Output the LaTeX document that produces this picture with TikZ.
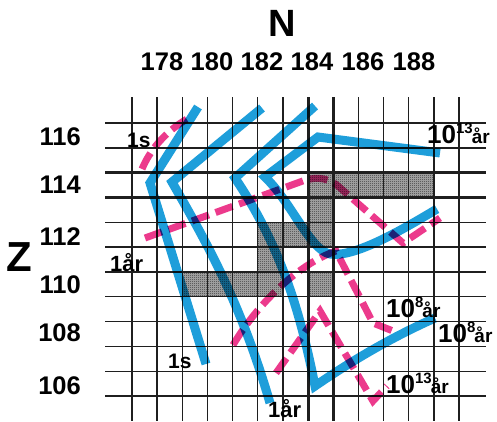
\documentclass[tikz,border=0pt]{standalone}
\usepackage{fontspec}
\setmainfont{Liberation Sans}
\usetikzlibrary{patterns}
\definecolor{cblue}{RGB}{30,158,218}
\definecolor{cpink}{RGB}{236,58,140}
\pgfdeclarepatternformonly{fchecker}{\pgfpointorigin}{\pgfpoint{2pt}{2pt}}{\pgfpoint{2pt}{2pt}}{%
  \pgfpathrectangle{\pgfpointorigin}{\pgfpoint{1pt}{1pt}}%
  \pgfpathrectangle{\pgfpoint{1pt}{1pt}}{\pgfpoint{1pt}{1pt}}%
  \pgfusepath{fill}}
\newcommand\tenpow[2]{{\fontsize{26}{26}\selectfont 10}\raisebox{10pt}{\fontsize{15}{15}\selectfont #1}\kern#2{\fontsize{19}{19}\selectfont år}}
\tikzset{
  gridthin/.style={line width=1.4pt, black!88},
  gridthick/.style={line width=2.9pt, black!88},
  cell/.style={fill=black!32},
  celltex/.style={pattern=fchecker, pattern color=black!80},
  bluepath/.style={cblue, line width=9pt, line join=miter},
  pinkpath/.style={cpink, line width=7pt, line join=miter, dash pattern=on 18pt off 7pt},
  axislabel/.style={font=\bfseries\fontsize{25.5}{25.5}\selectfont, inner sep=0pt},
  biglabel/.style={inner sep=0pt},
  curvelabel/.style={font=\bfseries, inner sep=0pt, anchor=base west},
}
\begin{document}
\begin{tikzpicture}[x=1pt,y=-1pt]
\useasboundingbox (0,0) rectangle (497,421);
% shaded cells
\foreach \k/\j in {7/2,8/2,9/2,10/2,11/2,7/3,5/4,6/4,7/4,5/5,2/6,3/6,4/6,5/6,7/6}{
  \fill[cell] ({132+25.15*\k},{123+24.82*\j}) rectangle ++(25.15,24.82);
  \fill[celltex] ({132+25.15*\k},{123+24.82*\j}) rectangle ++(25.15,24.82);
}
% grid
\foreach \k in {0,...,13}{
  \ifnum\k=7 \def\gs{gridthick}\else\ifnum\k=8 \def\gs{gridthick}\else\def\gs{gridthin}\fi\fi
  \draw[style=\gs] ({132+25.15*\k},97) -- ({132+25.15*\k},421);
}
\foreach \j in {0,...,11}{
  \ifnum\j=2 \def\gs{gridthick}\else\ifnum\j=3 \def\gs{gridthick}\else\def\gs{gridthin}\fi\fi
  \draw[style=\gs] (105,{123+24.82*\j}) -- (486,{123+24.82*\j});
}
\begin{scope}[blend mode=multiply]
% blue curves
\draw[bluepath] (198,107) -- (150,183) -- (206,364);
\draw[bluepath] (262,108) -- (172,182) .. controls (205,240) and (240,300) .. (270,403);
\draw[bluepath] (315,106) -- (235,178) .. controls (280,245) and (300,310) .. (315,386)
  .. controls (350,362) and (390,338) .. (435,318);
\draw[bluepath] (440,153) -- (318,137) -- (265,177) .. controls (292,203) and (310,250) .. (330,254)
  .. controls (355,258) and (405,228) .. (437,209);
% pink dashed curves
\draw[pinkpath] (142,169) .. controls (150,150) and (165,132) .. (187,119);
\draw[pinkpath] (145,238) -- (300,182) .. controls (312,177) and (326,176) .. (338,186) -- (403,243) -- (440,218);
\draw[pinkpath] (233,345) .. controls (260,300) and (301,263) .. (336,251) -- (373,323) -- (393,331);
\draw[pinkpath] (276,373) -- (320,311) -- (373,401) -- (387,386);
\end{scope}
% axis labels
\node[biglabel, font=\bfseries\fontsize{38}{38}\selectfont] (N) at (282,23) {N};
\node[biglabel, font=\bfseries\fontsize{42}{42}\selectfont] (Z) at (19,257) {Z};
\node[axislabel] (n178) at (162,62) {178};
\node[axislabel] (n180) at (212,62) {180};
\node[axislabel] (n182) at (262,62) {182};
\node[axislabel] (n184) at (312,62) {184};
\node[axislabel] (n186) at (363,62) {186};
\node[axislabel] (n188) at (414,62) {188};
\node[axislabel, anchor=east] (z116) at (81,137) {116};
\node[axislabel, anchor=east] (z114) at (81,185) {114};
\node[axislabel, anchor=east] (z112) at (81,237) {112};
\node[axislabel, anchor=east] (z110) at (81,285) {110};
\node[axislabel, anchor=east] (z108) at (81,333) {108};
\node[axislabel, anchor=east] (z106) at (81,386) {106};
% curve labels
\node[curvelabel, font=\bfseries\fontsize{21}{21}\selectfont] (s1) at (127,147) {1s};
\node[curvelabel, font=\bfseries\fontsize{22}{22}\selectfont] (y1) at (110,271) {1år};
\node[curvelabel, font=\bfseries\fontsize{21}{21}\selectfont] (s1b) at (168,368) {1s};
\node[curvelabel, font=\bfseries\fontsize{22}{22}\selectfont] (y1b) at (268,417) {1år};
\node[curvelabel] (t13a) at (427,143) {\tenpow{13}{-1pt}};
\node[curvelabel] (t8a) at (386,317) {\tenpow{8}{-1pt}};
\node[curvelabel] (t8b) at (438,342) {\tenpow{8}{-1pt}};
\node[curvelabel] (t13b) at (386,393) {\tenpow{13}{-1pt}};
\end{tikzpicture}
\end{document}
